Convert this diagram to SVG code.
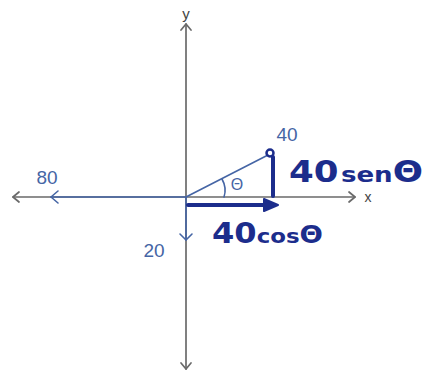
<svg xmlns="http://www.w3.org/2000/svg" width="426" height="374" viewBox="0 0 426 374">
<style>
.axis{stroke:#6a6a6a;stroke-width:1.7;fill:none;stroke-linecap:round;stroke-linejoin:round}
.thin{stroke:#4565a5;stroke-width:1.6;fill:none;stroke-linecap:round;stroke-linejoin:round}
.bold{stroke:#1c2d8c;stroke-width:4;fill:none;stroke-linecap:round;stroke-linejoin:round}
.lbl{font-family:"Liberation Sans",Arial,sans-serif;fill:#4565a5}
.hand{font-family:"DejaVu Sans",sans-serif;font-weight:bold;fill:#1c2d8c}
.ax{font-family:"Liberation Sans",Arial,sans-serif;fill:#444}
</style>
<rect width="426" height="374" fill="#ffffff"/>
<g id="axes">
<line class="axis" x1="186" y1="24" x2="186" y2="369"/>
<polyline class="axis" points="181,30 186,24 191,30"/>
<polyline class="axis" points="181,363 186,369 191,363"/>
<line class="axis" x1="13" y1="197" x2="355" y2="197"/>
<polyline class="axis" points="19,192 13,197 19,202"/>
<polyline class="axis" points="349,192 355,197 349,202"/>
<text class="ax" x="186" y="19" font-size="15" text-anchor="middle">y</text>
<text class="ax" x="368" y="202" font-size="14" text-anchor="middle">x</text>
</g>
<g id="connectors">
<line class="thin" x1="186" y1="197" x2="51" y2="197"/>
<polyline class="thin" points="58,191 51,197 58,203"/>
<line class="thin" x1="186" y1="197" x2="186" y2="240"/>
<polyline class="thin" points="180,234 186,240 192,234"/>
<line class="thin" x1="186" y1="197" x2="268" y2="155"/>
<circle cx="270" cy="153" r="3.5" fill="none" stroke="#1c2d8c" stroke-width="2.5"/>
<path class="thin" d="M222,179 Q227,188 224,197"/>
<line class="bold" x1="273" y1="157" x2="273" y2="196"/>
<line class="bold" x1="188" y1="205" x2="266" y2="205"/>
<polygon points="264,199 278,205 264,211" fill="#1c2d8c" stroke="#1c2d8c" stroke-width="2" stroke-linejoin="round"/>
</g>
<g id="labels">
<text class="lbl" x="47" y="184" font-size="19" text-anchor="middle">80</text>
<text class="lbl" x="154" y="257" font-size="19" text-anchor="middle">20</text>
<text class="lbl" x="287" y="141" font-size="19" text-anchor="middle">40</text>
<text class="lbl" x="237" y="190" font-size="16" text-anchor="middle">Θ</text>
<text class="hand" x="289" y="182" font-size="30" textLength="134" lengthAdjust="spacingAndGlyphs">40<tspan font-size="22" dx="2">sen</tspan><tspan font-size="30">Θ</tspan></text>
<text class="hand" x="212" y="243" font-size="28" textLength="111" lengthAdjust="spacingAndGlyphs">40<tspan font-size="20">cos</tspan><tspan font-size="24">Θ</tspan></text>
</g>
</svg>
